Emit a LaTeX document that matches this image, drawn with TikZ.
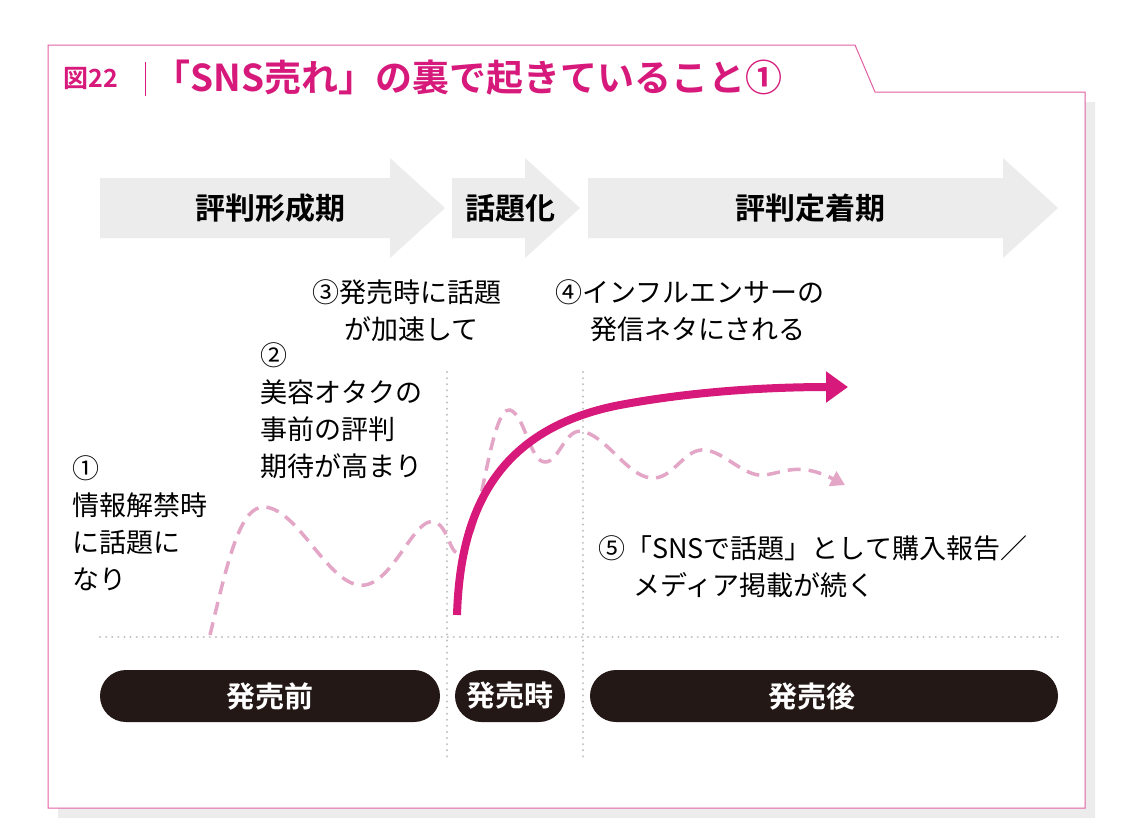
\documentclass[tikz,border=0pt]{standalone}
\usepackage{fontspec}
\setmainfont{Noto Sans CJK JP}
\newfontfamily\boldjp{Noto Sans CJK JP Bold}
\usetikzlibrary{arrows.meta}
\definecolor{magenta}{HTML}{D6197A}
\definecolor{pinkdash}{HTML}{E3A6C6}
\definecolor{bandgray}{HTML}{ECECEC}
\definecolor{pillblack}{HTML}{231815}
\begin{document}
\begin{tikzpicture}[x=1pt,y=-1pt,
    band/.style={fill=bandgray},
    bandtext/.style={font=\boldjp\fontsize{30}{32}\selectfont},
    pill/.style={fill=pillblack,rounded corners=26pt},
    pilltext/.style={text=white,font=\boldjp\fontsize{29}{32}\selectfont},
    note/.style={align=left,anchor=north west,inner sep=0pt,font=\fontsize{27}{37}\selectfont},
    guide/.style={gray!50,line width=2.2pt,dash pattern=on 0.1pt off 6pt,line cap=round}]
\useasboundingbox (0,0) rectangle (1140,839);
% frame
\fill[gray!15] (58,102) -- (885,102) -- (1095,102) -- (1095,818) -- (58,818) -- cycle;
\draw[magenta!70,fill=white,line width=1pt] (48,45) -- (855,45) -- (875,92) -- (1085,92) -- (1085,808) -- (48,808) -- cycle;
\node[text=magenta,font=\boldjp\fontsize{25}{27}\selectfont,anchor=west] (fig) at (60,78) {図22};
\draw[magenta,line width=1pt] (145,62) -- (145,96);
\node[text=magenta,font=\boldjp\fontsize{37}{40}\selectfont,anchor=west] (title) at (150,78) {「SNS売れ」の裏で起きていること①};
% phase bands
\fill[band] (100,178) -- (390,178) -- (390,158) -- (445,208) -- (390,258) -- (390,238) -- (100,238) -- cycle;
\fill[band] (452,178) -- (525,178) -- (525,158) -- (580,208) -- (525,258) -- (525,238) -- (452,238) -- cycle;
\fill[band] (588,178) -- (1003,178) -- (1003,158) -- (1058,208) -- (1003,258) -- (1003,238) -- (588,238) -- cycle;
\node[bandtext] (p1) at (270,208) {評判形成期};
\node[bandtext] (p2) at (510,208) {話題化};
\node[bandtext] (p3) at (810,208) {評判定着期};
% guides
\draw[guide] (100,637) -- (1058,637);
\draw[guide] (447,372) -- (447,760);
\draw[guide] (583,372) -- (583,760);
% curves
\coordinate (d0) at (210,635);
\coordinate (d1) at (845,485);
\draw[pinkdash,line width=3.5pt,dash pattern=on 13pt off 8pt,-{Triangle[length=14pt,width=16pt]}]
  (d0) .. controls (228,560) and (240,505) .. (265,507)
  .. controls (300,510) and (330,590) .. (365,585)
  .. controls (395,580) and (415,515) .. (435,522)
  .. controls (450,528) and (450,560) .. (462,552)
  .. controls (480,540) and (490,405) .. (510,410)
  .. controls (525,415) and (530,462) .. (545,462)
  .. controls (560,462) and (565,425) .. (585,432)
  .. controls (610,440) and (630,480) .. (655,478)
  .. controls (675,476) and (685,448) .. (705,450)
  .. controls (725,452) and (745,478) .. (765,475)
  .. controls (785,472) and (800,462) .. (d1);
\coordinate (s0) at (457,615);
\coordinate (s1) at (848,387);
\draw[magenta,line width=8pt,-{Triangle[length=22pt,width=30pt]}]
  (s0) .. controls (460,520) and (490,430) .. (620,405)
  .. controls (700,390) and (780,387) .. (s1);
% notes
\node[note] (n1) at (72,455) {①\\情報解禁時\\に話題に\\なり};
\node[note] (n2) at (260,342) {②\\美容オタクの\\事前の評判\\期待が高まり};
\node[note] (n3) at (312,279) {③発売時に話題\\\hspace*{1.2em}が加速して};
\node[note] (n4) at (555,279) {④インフルエンサーの\\\hspace*{1.3em}発信ネタにされる};
\node[note] (n5) at (598,535) {⑤「SNSで話題」として購入報告／\\\hspace*{1.3em}メディア掲載が続く};
% timing pills
\fill[pill] (100,670) rectangle (440,722);
\fill[pill] (455,670) rectangle (565,722);
\fill[pill] (590,670) rectangle (1058,722);
\node[pilltext] (t1) at (270,696) {発売前};
\node[pilltext] (t2) at (510,696) {発売時};
\node[pilltext] (t3) at (812,696) {発売後};
\end{tikzpicture}
\end{document}
